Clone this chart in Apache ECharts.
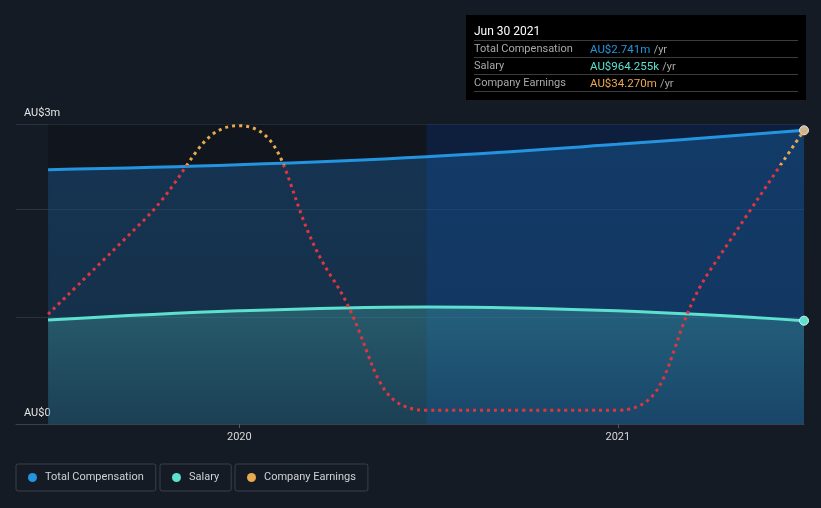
<!DOCTYPE html>
<html>
<head>
<meta charset="utf-8">
<script src="https://cdn.jsdelivr.net/npm/echarts@6/dist/echarts.min.js"></script>
<style>
html,body{margin:0;padding:0;background:#151b24;}
#c{width:821px;height:508px;}
</style>
</head>
<body>
<div id="c"></div>
<script>
// ---- data (AU$ millions) ----
const dates = ['2019-06-30', '2019-12-31', '2020-06-30', '2020-12-31', '2021-06-30'];
const totalComp = [2.374, 2.42, 2.495, 2.61, 2.741];
const salary = [0.97, 1.056, 1.093, 1.056, 0.964255];
const earningsDates = ['2019-06-30', '2019-09-30', '2019-12-31', '2020-03-31', '2020-06-30',
                       '2020-09-30', '2020-12-31', '2021-03-31', '2021-06-30'];
const earnings = [12.8, 23.7, 34.8, 17.0, 1.6, 1.6, 1.6, 17.9, 34.27];
const earningsColorSplit = 30; // earnings above this drawn orange, below red
const yearTicks = ['2020-01-01', '2021-01-01'];
const yLabels = ['AU$0', 'AU$3m'];
const tooltipTitle = 'Jun 30 2021';
const seriesNames = ['Total Compensation', 'Salary', 'Company Earnings'];

const ts = s => { const p = s.split('-').map(Number); return Date.UTC(p[0], p[1] - 1, p[2]); };
const FONT = 'Roboto';
const C_COMP = '#2394df', C_SAL = '#5ee0cf', C_EARN = '#e8a94f', C_RED = '#e0353f';
const last = a => a[a.length - 1];

function mk(ds, arr, endStyle) {
  return arr.map((v, i) => {
    const item = { value: [ts(ds[i]), v] };
    if (i === arr.length - 1 && endStyle) {
      item.symbol = 'circle';
      item.symbolSize = 9;
      item.itemStyle = endStyle;
    }
    return item;
  });
}

const eMax = Math.max(...earnings), eMin = Math.min(...earnings);
const split = (eMax - earningsColorSplit) / (eMax - eMin);

const chart = echarts.init(document.getElementById('c'));
const Y_MAX = 2.8, Y2_MAX = 35;

const option = {
  backgroundColor: '#151b24',
  animation: false,
  textStyle: { fontFamily: FONT },
  grid: { left: 16, right: 17, top: 124, bottom: 84, containLabel: false },
  xAxis: {
    type: 'value',
    min: ts('2019-05-30'),
    max: ts(last(dates)),
    axisLine: { show: true, lineStyle: { color: '#3b4049', width: 1 } },
    axisTick: { show: true, length: 4, lineStyle: { color: '#555a63' }, customValues: yearTicks.map(ts) },
    axisLabel: {
      color: '#d8d8d8', fontSize: 11, fontFamily: FONT, margin: 8,
      customValues: yearTicks.map(ts),
      formatter: v => String(new Date(v).getUTCFullYear())
    },
    splitLine: { show: false }
  },
  yAxis: [{
    type: 'value', min: 0, max: Y_MAX, interval: 1,
    axisLine: { show: false }, axisTick: { show: false },
    splitLine: { show: true, lineStyle: { color: '#2c323c', width: 1 } },
    axisLabel: {
      inside: true, verticalAlign: 'bottom', margin: 8, padding: [0, 0, 5, 0],
      color: '#e6e6e6', fontSize: 11, fontFamily: FONT,
      showMinLabel: true, showMaxLabel: true,
      formatter: v => v === 0 ? yLabels[0] : (Math.abs(v - Y_MAX) < 1e-9 ? yLabels[1] : '')
    }
  }, {
    type: 'value', min: 0, max: Y2_MAX, show: false, splitLine: { show: false }
  }],
  legend: seriesNames.map((n, i) => ({
    data: [{ name: n, itemStyle: { color: [C_COMP, C_SAL, C_EARN][i] } }],
    left: [16, 160, 235][i], top: 464,
    orient: 'horizontal',
    icon: 'circle', itemWidth: 9, itemHeight: 9, itemGap: 0,
    padding: [8, 12, 8, 12],
    borderColor: '#3a3f49', borderWidth: 1, borderRadius: 2,
    textStyle: { color: '#cfd2d6', fontSize: 11, fontFamily: FONT, padding: [0, 0, 0, 3] },
    selectedMode: false
  })),
  series: [
    {
      type: 'line', name: '_bands', z: 1, data: [], silent: true,
      markArea: {
        silent: true,
        data: [
          [{ xAxis: ts(dates[0]), itemStyle: { color: 'rgba(0,0,0,0.16)' } }, { xAxis: ts(dates[2]) }],
          [{ xAxis: ts(dates[2]), itemStyle: { color: 'rgba(0,40,110,0.35)' } }, { xAxis: ts(last(dates)) }]
        ]
      }
    },
    {
      type: 'line', name: seriesNames[0], z: 2, smooth: 0.4, showSymbol: true, symbol: 'none',
      data: mk(dates, totalComp, { color: '#cdb590', borderColor: '#f0e6d6', borderWidth: 1 }),
      itemStyle: { color: C_COMP },
      lineStyle: { color: C_COMP, width: 3 },
      areaStyle: {
        color: { type: 'linear', x: 0, y: 0, x2: 0, y2: 1, colorStops: [
          { offset: 0, color: 'rgba(32,122,200,0.44)' }, { offset: 1, color: 'rgba(32,122,200,0.34)' }] }
      }
    },
    {
      type: 'line', name: seriesNames[1], z: 3, smooth: 0.4, showSymbol: true, symbol: 'none',
      data: mk(dates, salary, { color: C_SAL, borderColor: '#d8f6f2', borderWidth: 1 }),
      itemStyle: { color: C_SAL },
      lineStyle: { color: C_SAL, width: 3 },
      areaStyle: {
        color: { type: 'linear', x: 0, y: 0, x2: 0, y2: 1, colorStops: [
          { offset: 0, color: 'rgba(84,200,190,0.40)' }, { offset: 1, color: 'rgba(84,200,190,0.16)' }] }
      }
    },
    {
      type: 'line', name: seriesNames[2], yAxisIndex: 1, z: 4, smooth: 0.5,
      showSymbol: false, symbol: 'none',
      data: mk(earningsDates, earnings, null),
      itemStyle: { color: C_EARN },
      lineStyle: {
        width: 3, type: [3, 4], cap: 'butt',
        color: { type: 'linear', x: 0, y: 0, x2: 0, y2: 1, colorStops: [
          { offset: 0, color: C_EARN }, { offset: split, color: C_EARN },
          { offset: split, color: C_RED }, { offset: 1, color: C_RED }] }
      }
    }
  ],
  graphic: [{
    type: 'group', left: 466, top: 15, silent: true,
    children: [
      { type: 'rect', shape: { x: 0, y: 0, width: 340, height: 85 }, style: { fill: '#000000' } },
      { type: 'text', x: 8, y: 11, style: { text: tooltipTitle, fill: '#ffffff', font: '12px Roboto' } },
      { type: 'line', shape: { x1: 8, y1: 25.5, x2: 332, y2: 25.5 }, style: { stroke: '#3d3d3d', lineWidth: 1 } },
      { type: 'line', shape: { x1: 8, y1: 42.5, x2: 332, y2: 42.5 }, style: { stroke: '#3d3d3d', lineWidth: 1 } },
      { type: 'line', shape: { x1: 8, y1: 59.5, x2: 332, y2: 59.5 }, style: { stroke: '#3d3d3d', lineWidth: 1 } },
      { type: 'line', shape: { x1: 8, y1: 76.5, x2: 332, y2: 76.5 }, style: { stroke: '#3d3d3d', lineWidth: 1 } },
      { type: 'text', x: 8, y: 29, style: { text: seriesNames[0], fill: '#a9a9a9', font: '11px Roboto' } },
      { type: 'text', x: 8, y: 46, style: { text: seriesNames[1], fill: '#a9a9a9', font: '11px Roboto' } },
      { type: 'text', x: 8, y: 63, style: { text: seriesNames[2], fill: '#a9a9a9', font: '11px Roboto' } },
      { type: 'text', x: 124, y: 29, style: {
        text: '{v|AU$' + last(totalComp).toFixed(3) + 'm} {u|/yr}',
        rich: { v: { fill: C_COMP, font: '11.5px Roboto' }, u: { fill: '#a9a9a9', font: '11px Roboto' } } } },
      { type: 'text', x: 124, y: 46, style: {
        text: '{v|AU$' + (last(salary) * 1000).toFixed(3) + 'k} {u|/yr}',
        rich: { v: { fill: C_SAL, font: '11.5px Roboto' }, u: { fill: '#a9a9a9', font: '11px Roboto' } } } },
      { type: 'text', x: 124, y: 63, style: {
        text: '{v|AU$' + last(earnings).toFixed(3) + 'm} {u|/yr}',
        rich: { v: { fill: C_EARN, font: '11.5px Roboto' }, u: { fill: '#a9a9a9', font: '11px Roboto' } } } }
    ]
  }]
};
chart.setOption(option);
</script>
</body>
</html>
